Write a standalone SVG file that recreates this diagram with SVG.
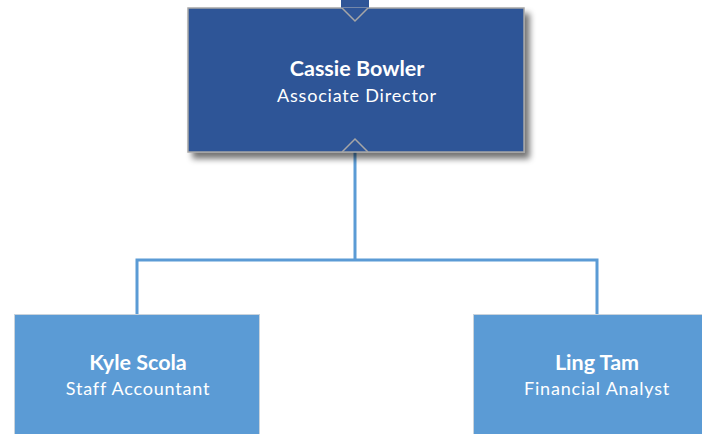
<svg xmlns="http://www.w3.org/2000/svg" width="702" height="434" viewBox="0 0 702 434">
<defs>
<filter id="sh" x="-10%" y="-10%" width="130%" height="140%">
<feGaussianBlur in="SourceAlpha" stdDeviation="3"/>
<feOffset dx="5" dy="6"/>
<feComponentTransfer><feFuncA type="linear" slope="0.55"/></feComponentTransfer>
<feMerge><feMergeNode/><feMergeNode in="SourceGraphic"/></feMerge>
</filter>
<style>
.name{font-family:Lato,"Open Sans",sans-serif;font-weight:bold;font-size:21.5px;fill:#fff;text-anchor:middle}
.role{font-family:Lato,"Open Sans",sans-serif;font-size:18px;letter-spacing:0.8px;fill:#fff;text-anchor:middle}
.conn{fill:none;stroke:#5b9bd5;stroke-width:3}
.sub{fill:#5b9bd5;stroke:#c9d3dc;stroke-width:1}
</style>
</defs>
<g id="connectors">
<path class="conn" d="M355,152 V260 M137,260 H597 M137,258.5 V315 M597,258.5 V315"/>
</g>
<g id="node-cassie">
<rect x="188" y="8" width="336" height="144" fill="#2f5597" stroke="#a6a6a6" stroke-width="1.5" filter="url(#sh)"/>
<path d="M342,8 L355,21 L368,8" fill="#2f5597" stroke="#a6a6a6" stroke-width="1.5"/>
<rect x="341" y="0" width="28" height="7.5" fill="#2f5597"/>
<path d="M342,152 L355,139 L368,152" fill="none" stroke="#a6a6a6" stroke-width="1.5"/>
<text class="name" x="357" y="76">Cassie Bowler</text>
<text class="role" x="357" y="102">Associate Director</text>
</g>
<g id="node-kyle">
<rect class="sub" x="14.5" y="314.5" width="245" height="125"/>
<text class="name" x="138" y="370">Kyle Scola</text>
<text class="role" x="138" y="395">Staff Accountant</text>
</g>
<g id="node-ling">
<rect class="sub" x="473.5" y="314.5" width="240" height="125"/>
<text class="name" x="597" y="370">Ling Tam</text>
<text class="role" x="597" y="395">Financial Analyst</text>
</g>
</svg>
